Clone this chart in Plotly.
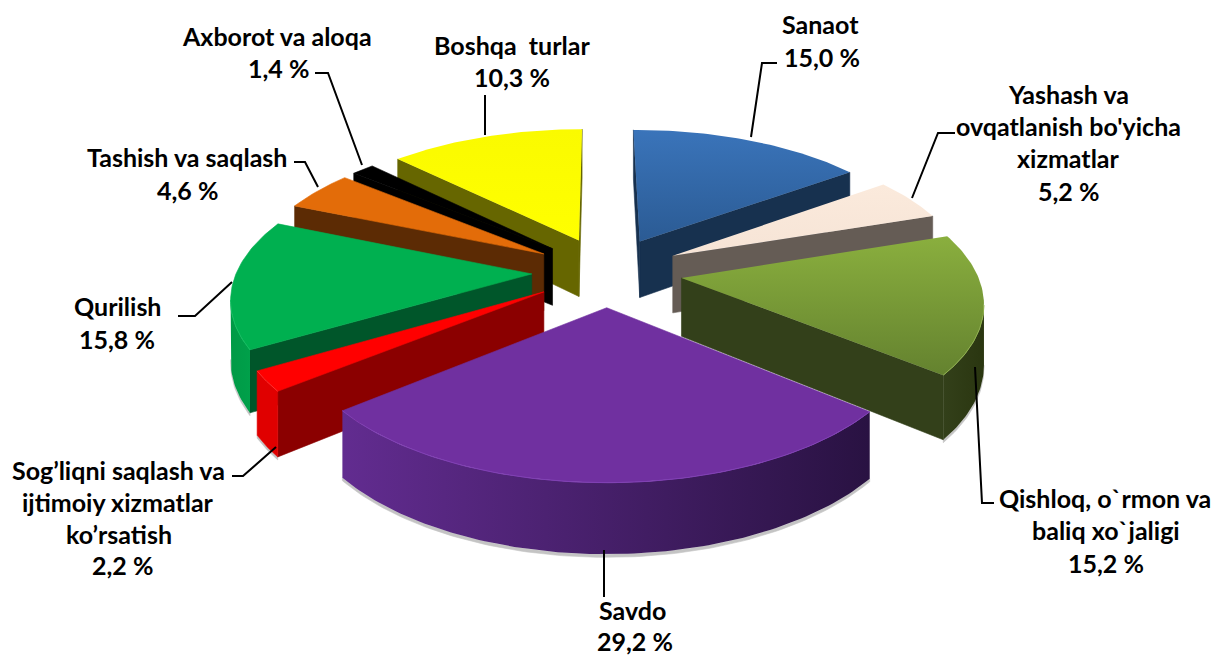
import math
import plotly.graph_objects as go

# ---------- data ----------
categories = ["Sanaot", "Yashash va ovqatlanish bo'yicha xizmatlar", "Qishloq, o`rmon va baliq xo`jaligi",
              "Savdo", "Sog’liqni saqlash va ijtimoiy xizmatlar ko’rsatish", "Qurilish",
              "Tashish va saqlash", "Axborot va aloqa", "Boshqa turlar"]
values = [15.0, 5.2, 15.2, 29.2, 2.2, 15.8, 4.6, 1.4, 10.3]          # as printed on the labels
drawn_shares = [15.14, 4.89, 16.06, 28.22, 2.31, 14.83, 4.64, 1.47, 12.56]   # slice size

# ---------- styles: top face (upper, lower), radial wall, outer wall (left, right) ----------
top_cols = [("#2b5b94", "#3a74ba"), ("#f6e4d6", "#fbeadc"), ("#64822f", "#8aaf3e"),
            ("#7030a0", "#7030a0"), ("#ff0000", "#ff0000"), ("#00b050", "#00b050"),
            ("#e36c09", "#e36c09"), ("#000000", "#000000"), ("#ffff00", "#fafa00")]
radial_cols = ["#17314f", "#655c55", "#33401a", "#2a1445", "#8b0000", "#00562a", "#5c2b04", "#000000", "#666600"]
outer_cols = [("#1f3d63", "#1a3a63"), ("#7a706a", "#655c55"), ("#33401a", "#2a3610"),
              ("#622c90", "#291242"), ("#e00000", "#e00000"), ("#009a46", "#00a04a"),
              ("#6a3205", "#5c2b04"), ("#000000", "#000000"), ("#666600", "#666600")]
rim_cols = ["#4a80c0", "#ffffff", "#8fb04c", "#8040b4", "#ff3030", "#14bc60", "#f08020", "#202020", "#ffff40"]

# ---------- projection ----------
CX, CY, R, A, D, T = 607, 271.5, 295, 136.6, 0.15, 58
EXPL = 0.255
START = -0.5
SPAN = 360.4

def proj(X, Y, z=0):
    s = 1 / (1 + D * Y)
    return CX + X * R * s, CY - Y * A * s + z * T * s

fig = go.Figure()

def poly(pts, fill=None, grad=None, gtype="vertical"):
    xs = [p[0] for p in pts] + [pts[0][0]]
    ys = [p[1] for p in pts] + [pts[0][1]]
    kw = dict(x=xs, y=ys, mode="lines", fill="toself", hoverinfo="skip", showlegend=False)
    if grad and grad[0] != grad[1]:
        kw["fillgradient"] = dict(type=gtype, colorscale=[[0, grad[0]], [1, grad[1]]])
        kw["line"] = dict(width=0)
    else:
        c = fill or grad[0]
        kw["fillcolor"] = c
        kw["line"] = dict(width=0.6, color=c)
    fig.add_trace(go.Scatter(**kw))

total = sum(drawn_shares)
wedges = []
ang = START
for i, v in enumerate(drawn_shares):
    sweep = v / total * SPAN
    wedges.append((i, ang, ang + sweep))
    ang += sweep

def mid_y(w):
    return math.cos(math.radians((w[1] + w[2]) / 2))

# painter's order: far wedges first
for w in sorted(wedges, key=mid_y, reverse=True):
    i, a0, a1 = w
    m = math.radians((a0 + a1) / 2)
    ex, ey = EXPL * math.sin(m), EXPL * math.cos(m)
    n = max(8, int(a1 - a0))
    arc = []
    for j in range(n + 1):
        t = math.radians(a0 + (a1 - a0) * j / n)
        arc.append((ex + math.sin(t), ey + math.cos(t)))
    apex = (ex, ey)
    top = [proj(*apex)] + [proj(*p) for p in arc]

    vis = [j for j in range(n) if proj(*arc[j + 1])[0] < proj(*arc[j])[0]]
    # soft drop shadow of the outer wall
    if vis:
        seg = arc[vis[0]:vis[-1] + 2]
        up = [proj(p[0], p[1], 1) for p in seg]
        dn = [proj(p[0], p[1], 1.045) for p in reversed(seg)]
        poly(up + dn, fill="#c4c4c4")
    # radial walls, only when they face the viewer
    for p, q in ((arc[-1], apex), (apex, arc[0])):
        if proj(*q)[0] < proj(*p)[0]:
            poly([proj(*p), proj(*q), proj(q[0], q[1], 1), proj(p[0], p[1], 1)], fill=radial_cols[i])
    # outer wall
    if vis:
        seg = arc[vis[0]:vis[-1] + 2]
        pts = [proj(*p) for p in seg] + [proj(p[0], p[1], 1) for p in reversed(seg)]
        poly(pts, grad=outer_cols[i], gtype="horizontal")
    # top face
    poly(top, grad=top_cols[i], gtype="vertical")
    # bevel highlight on the front rim
    if vis:
        seg = arc[vis[0]:vis[-1] + 2]
        fig.add_trace(go.Scatter(x=[proj(*p)[0] for p in seg], y=[proj(*p)[1] for p in seg], mode="lines",
                                 line=dict(color=rim_cols[i], width=1), hoverinfo="skip", showlegend=False))

# ---------- labels ----------
label_lines = [
    ("Sanaot", 820, 24), ("15,0 %", 822, 57),
    ("Yashash va", 1068, 94), ("ovqatlanish bo'yicha", 1068, 126), ("xizmatlar", 1068, 158), ("5,2 %", 1068, 191),
    ("Qishloq, o`rmon va", 1105, 498), ("baliq xo`jaligi", 1106, 530), ("15,2 %", 1106, 563),
    ("Savdo", 632, 610), ("29,2 %", 635, 641),
    ("Sog’liqni saqlash va", 118, 470), ("ijtimoiy xizmatlar", 118, 502), ("ko’rsatish", 119, 534), ("2,2 %", 122, 565),
    ("Qurilish", 117, 306), ("15,8 %", 117, 339),
    ("Tashish va saqlash", 187, 157), ("4,6 %", 187, 190),
    ("Axborot va aloqa", 277, 36), ("1,4 %", 278, 68),
    ("Boshqa  turlar", 512, 45), ("10,3 %", 512, 77),
]
leaders = [
    [(777, 63), (762, 63), (751, 137)],
    [(955, 133), (938, 133), (912, 198)],
    [(975, 367), (982, 503), (994, 503)],
    [(604, 550), (604, 597)],
    [(232, 476), (243, 476), (276, 447)],
    [(178, 316), (195, 316), (232, 282)],
    [(294, 162), (305, 162), (318, 187)],
    [(315, 73), (328, 73), (362, 165)],
    [(485, 95), (485, 135)],
]
for l in leaders:
    fig.add_trace(go.Scatter(x=[p[0] for p in l], y=[p[1] for p in l], mode="lines",
                             line=dict(color="black", width=2), hoverinfo="skip", showlegend=False))

for text, x, y in label_lines:
    fig.add_annotation(x=x, y=y, text=f"<b>{text}</b>", showarrow=False, xanchor="center", yanchor="middle",
                       font=dict(family="Lato", size=25, color="black"))

fig.update_layout(width=1227, height=656, margin=dict(l=0, r=0, t=0, b=0), paper_bgcolor="white",
                  plot_bgcolor="white", showlegend=False,
                  xaxis=dict(range=[0, 1227], visible=False, fixedrange=True),
                  yaxis=dict(range=[656, 0], visible=False, fixedrange=True))
fig.write_html("out.html", config={"displayModeBar": False},
               post_script="document.body.style.margin='0';document.body.style.overflow='hidden';")
